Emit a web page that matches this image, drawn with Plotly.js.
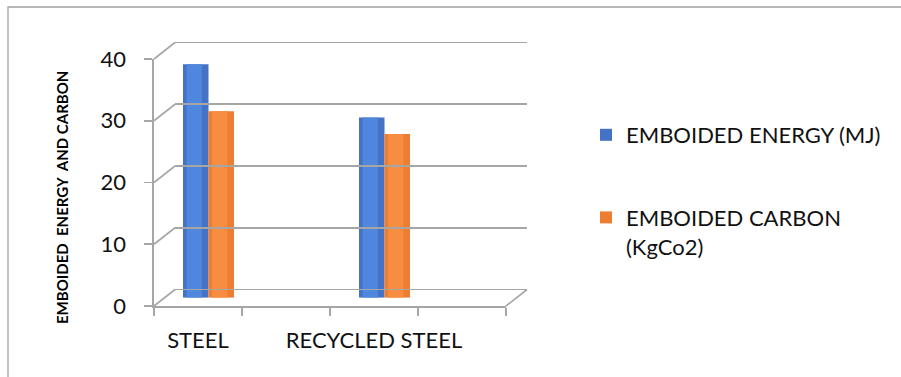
<!DOCTYPE html>
<html>
<head>
<meta charset="utf-8">
<script src="https://cdn.plot.ly/plotly-3.0.1.min.js"></script>
<style>
  html, body { margin: 0; padding: 0; background: #fff; }
  #chart { width: 901px; height: 377px; }
</style>
</head>
<body>
<div id="chart"></div>
<script>
// Embodied energy and carbon of steel vs recycled steel
const categories = ['STEEL', 'RECYCLED STEEL'];
const energyMJ = [37.8, 29.2];
const carbonKgCo2 = [30.2, 26.5];
const seriesNames = ['EMBOIDED ENERGY (MJ)', 'EMBOIDED CARBON<br>(KgCo2)'];
const yTicks = [0, 10, 20, 30, 40];
const yTitle = 'EMBOIDED\u00a0\u00a0ENERGY\u00a0\u00a0AND CARBON';

// ---- pseudo-3D geometry (pixels) ----
const W = 901, H = 377;
const FRONT = { left: 154, right: 506, bottom: 306, top: 59 };
const DEPTH = { dx: 21, dy: -16.5 };        // front plane -> back wall
const MID = { dx: DEPTH.dx / 2, dy: DEPTH.dy / 2 };
const Y_MAX = 40;
const SLOTS = 4;                             // every category is followed by an empty slot
const PX_PER_UNIT = (FRONT.bottom - FRONT.top) / Y_MAX;

const px = x => x / W;
const py = y => 1 - y / H;
const xDomain = off => [px(FRONT.left + off), px(FRONT.right + off)];
const yDomain = (off, pad = 0) => [py(FRONT.bottom + off + pad), py(FRONT.top + off - pad)];
const valueToPy = (v, off) => FRONT.bottom + off - PX_PER_UNIT * v;

const slotPos = categories.map((_, i) => i * 2);
const boundaries = Array.from({ length: SLOTS + 1 }, (_, k) => k - 0.5);

const FONT = 'Lato, "Open Sans", "Liberation Sans", sans-serif';
const GRID = '#a6a6a6';
const BLUE = '#4472c4', BLUE_HI = '#5087de';
const ORANGE = '#ed7d31', ORANGE_HI = '#f78d40';

const BAR_W = 0.29;

function cylinder(values, name, color, hi, offset, group) {
  return [
    {
      type: 'bar', x: slotPos, y: values, name: name,
      xaxis: 'x2', yaxis: 'y2', width: BAR_W, offset: offset,
      marker: { color: color }, legendgroup: group, hoverinfo: 'y'
    },
    {
      type: 'bar', x: slotPos, y: values, name: name,
      xaxis: 'x2', yaxis: 'y2', width: BAR_W * 0.6, offset: offset + BAR_W * 0.14,
      marker: { color: hi }, showlegend: false, legendgroup: group, hoverinfo: 'skip'
    }
  ];
}

const traces = [
  // front plane (axis labels & ticks)
  { type: 'scatter', x: slotPos, y: slotPos.map(() => null), xaxis: 'x', yaxis: 'y',
    mode: 'markers', showlegend: false, hoverinfo: 'skip' },
  // back wall (gridlines)
  { type: 'scatter', x: slotPos, y: slotPos.map(() => null), xaxis: 'x3', yaxis: 'y3',
    mode: 'markers', showlegend: false, hoverinfo: 'skip' },
  ...cylinder(energyMJ, seriesNames[0], BLUE, BLUE_HI, -BAR_W, 'energy'),
  ...cylinder(carbonKgCo2, seriesNames[1], ORANGE, ORANGE_HI, 0, 'carbon')
];

// depth lines joining front ticks to back gridlines, plus floor edge
const shapes = yTicks.map(v => ({
  type: 'line', xref: 'paper', yref: 'paper',
  x0: px(FRONT.left), y0: py(valueToPy(v, 0)),
  x1: px(FRONT.left + DEPTH.dx), y1: py(valueToPy(v, DEPTH.dy)),
  line: { color: GRID, width: 1.6 }
}));
shapes.push({
  type: 'line', xref: 'paper', yref: 'paper',
  x0: px(FRONT.right), y0: py(valueToPy(0, 0)),
  x1: px(FRONT.right + DEPTH.dx), y1: py(valueToPy(0, DEPTH.dy)),
  line: { color: GRID, width: 1.6 }
});
// chart frame
shapes.push({
  type: 'rect', xref: 'paper', yref: 'paper',
  x0: px(8), y0: py(7), x1: px(W + 10), y1: py(H + 10),
  line: { color: '#a0a0a0', width: 1.3 }
});

const baseY = {
  range: [0, Y_MAX], tickvals: yTicks, fixedrange: true, zeroline: false
};
const baseX = {
  range: [-0.5, SLOTS - 0.5], fixedrange: true, zeroline: false
};

// back wall axis is padded a few pixels so its end grid lines (0 and 40) are drawn
const WALL_PAD_PX = 4;
const wallPad = WALL_PAD_PX / PX_PER_UNIT;

const layout = {
  width: W, height: H,
  margin: { l: 0, r: 0, t: 0, b: 0 },
  paper_bgcolor: '#fff', plot_bgcolor: 'rgba(0,0,0,0)',
  barmode: 'overlay',
  font: { family: FONT, color: '#000' },
  xaxis: Object.assign({}, baseX, {
    domain: xDomain(0), anchor: 'y',
    tickvals: slotPos, ticktext: categories, ticks: '',
    tickfont: { size: 22, family: FONT, color: '#111' },
    ticklabelstandoff: 14,
    showline: true, linecolor: GRID, linewidth: 1.6, showgrid: false,
    minor: { tickmode: 'array', tickvals: boundaries, ticks: 'outside', ticklen: 8,
             tickcolor: GRID, tickwidth: 1.6, showgrid: false }
  }),
  yaxis: Object.assign({}, baseY, {
    domain: yDomain(0), anchor: 'x',
    ticks: 'outside', ticklen: 8, tickcolor: GRID, tickwidth: 1.6,
    tickfont: { size: 22, family: FONT, color: '#111' },
    ticklabelstandoff: 14,
    showline: true, linecolor: GRID, linewidth: 1.6, showgrid: false
  }),
  xaxis2: Object.assign({}, baseX, { domain: xDomain(MID.dx), anchor: 'y2', visible: false }),
  yaxis2: Object.assign({}, baseY, { domain: yDomain(MID.dy), anchor: 'x2', visible: false }),
  xaxis3: Object.assign({}, baseX, { domain: xDomain(DEPTH.dx), anchor: 'y3', visible: false }),
  yaxis3: Object.assign({}, baseY, {
    range: [-wallPad, Y_MAX + wallPad],
    domain: yDomain(DEPTH.dy, WALL_PAD_PX), anchor: 'x3',
    showgrid: true, gridcolor: GRID, gridwidth: 1.6,
    showticklabels: false, ticks: '', showline: false
  }),
  showlegend: true,
  legend: {
    x: px(586), y: py(114), xanchor: 'left', yanchor: 'top',
    font: { size: 22, family: FONT, color: '#111' },
    valign: 'top', tracegroupgap: 51, traceorder: 'grouped',
    bgcolor: 'rgba(0,0,0,0)'
  },
  annotations: [{
    text: '<b>' + yTitle + '</b>', textangle: -90,
    xref: 'paper', yref: 'paper', x: px(62), y: py(198),
    xanchor: 'center', yanchor: 'middle', showarrow: false,
    font: { size: 15, family: FONT, color: '#000' }
  }],
  shapes: shapes
};

Plotly.newPlot('chart', traces, layout, { displayModeBar: false, staticPlot: true });
</script>
</body>
</html>
